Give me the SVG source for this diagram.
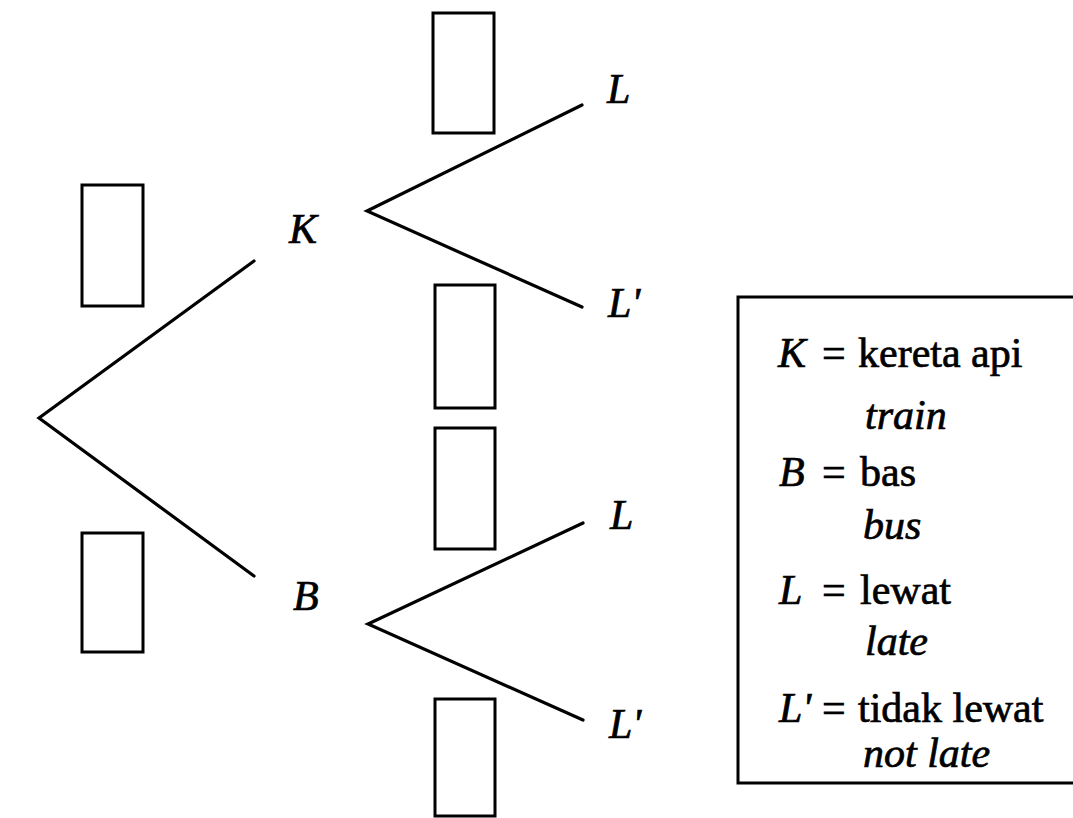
<svg xmlns="http://www.w3.org/2000/svg" width="1073" height="818" viewBox="0 0 1073 818">
<style>
.ln{stroke:#000;stroke-width:3.2;fill:none;stroke-linecap:round;stroke-linejoin:miter}
.bx{stroke:#000;stroke-width:3;fill:none}
text{font-family:'Liberation Serif','Times New Roman','DejaVu Serif',serif;font-size:42px;fill:#000;stroke:#000;stroke-width:0.7}
.i{font-style:italic}
</style>
<rect width="1073" height="818" fill="#fff"/>
<g id="connectors">
<polyline class="ln" points="254,261 39,418 254,576"/>
<polyline class="ln" points="582,105 367,211 582,307"/>
<polyline class="ln" points="583,523 368,624 583,720"/>
</g>
<g id="box-root-K"><rect class="bx" x="82" y="185" width="61" height="121"/></g>
<g id="box-root-B"><rect class="bx" x="82" y="533" width="61" height="119"/></g>
<g id="box-K-L"><rect class="bx" x="433" y="13" width="61" height="120"/></g>
<g id="box-K-L2"><rect class="bx" x="435" y="285" width="60" height="123"/></g>
<g id="box-B-L"><rect class="bx" x="435" y="428" width="60" height="121"/></g>
<g id="box-B-L2"><rect class="bx" x="435" y="699" width="60" height="117"/></g>
<g id="node-K"><text class="i" x="289" y="243" font-family="Liberation Serif, serif">K</text></g>
<g id="node-B"><text class="i" x="293" y="610" font-family="Liberation Serif, serif">B</text></g>
<g id="node-KL"><text class="i" x="607" y="103" font-family="Liberation Serif, serif">L</text></g>
<g id="node-KL2"><text class="i" x="608" y="317" font-family="Liberation Serif, serif">L'</text></g>
<g id="node-BL"><text class="i" x="610" y="529" font-family="Liberation Serif, serif">L</text></g>
<g id="node-BL2"><text class="i" x="609" y="738" font-family="Liberation Serif, serif">L'</text></g>
<g id="legend" font-family="Liberation Serif, serif">
<rect class="bx" x="738" y="297" width="400" height="486"/>
<text class="i" x="778" y="367">K</text><text x="822" y="367">=</text><text x="858" y="367">kereta api</text>
<text class="i" x="865" y="429">train</text>
<text class="i" x="779" y="486">B</text><text x="822" y="486">=</text><text x="860" y="486">bas</text>
<text class="i" x="863" y="539">bus</text>
<text class="i" x="779" y="604">L</text><text x="822" y="604">=</text><text x="860" y="604">lewat</text>
<text class="i" x="865" y="655">late</text>
<text class="i" x="779" y="722">L'</text><text x="822" y="722">=</text><text x="858" y="722">tidak lewat</text>
<text class="i" x="863" y="767">not late</text>
</g>
</svg>
